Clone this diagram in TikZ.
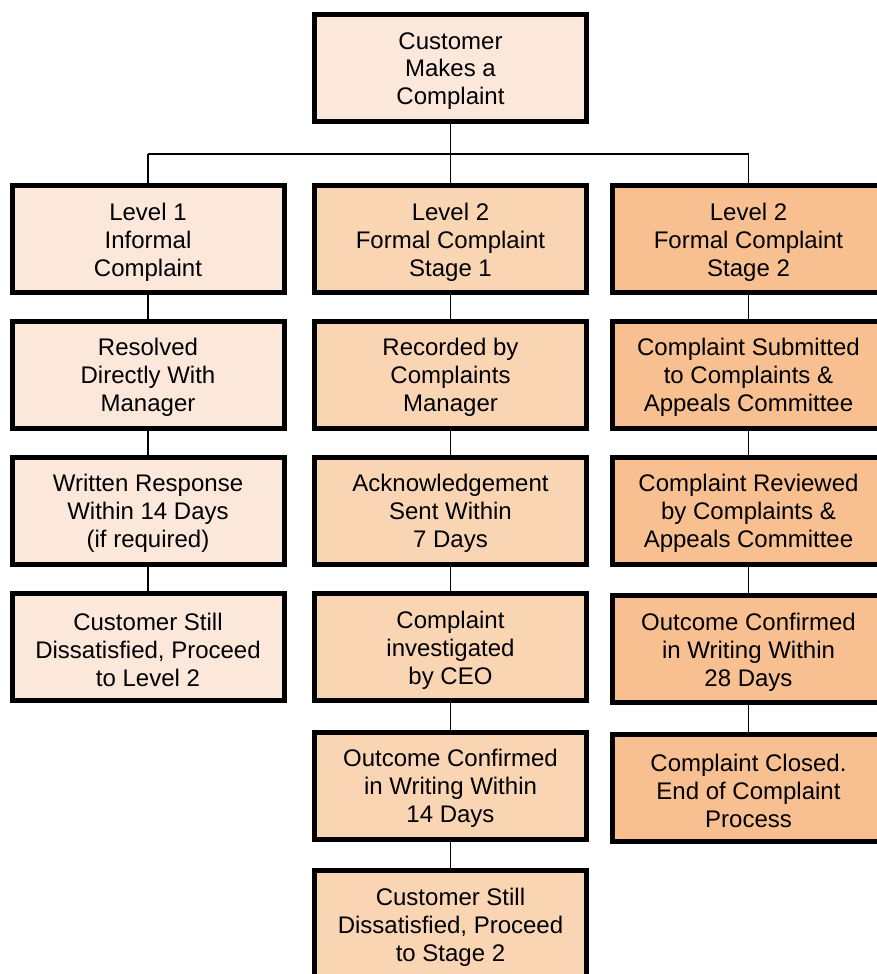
\documentclass[tikz,border=0pt]{standalone}
\usepackage{fontspec}
\setmainfont{Liberation Sans}
\definecolor{fillA}{HTML}{FCE8DA}
\definecolor{fillB}{HTML}{FAD5B4}
\definecolor{fillC}{HTML}{F8C091}
\begin{document}
\begin{tikzpicture}[x=1pt,y=-1pt,
  boxstyle/.style={draw=black, line width=5pt, rectangle, minimum width=272pt, minimum height=107pt,
    inner sep=0pt},
  txt/.style={align=center, inner sep=0pt, yshift=-3pt, font=\fontsize{24}{27.8}\selectfont},
  lineA/.style={boxstyle, fill=fillA},
  lineB/.style={boxstyle, fill=fillB},
  lineC/.style={boxstyle, fill=fillC},
  conn/.style={draw=black, line width=1.5pt}]
\useasboundingbox (0,0) rectangle (877,974);
\clip (0,0) rectangle (877,974);
\coordinate (hl) at (148,154);
\coordinate (hr) at (748.5,154);
% nodes
\node[lineA, label={[txt]center:{Customer\\Makes a\\Complaint}}] (top) at (450.5,68) {};
\node[lineA, label={[txt]center:{Level 1\\Informal\\Complaint}}] (a1) at (148,239) {};
\node[lineA, label={[txt]center:{Resolved\\Directly With\\Manager}}] (a2) at (148,374.5) {};
\node[lineA, label={[txt]center:{Written Response\\Within 14 Days\\(if required)}}] (a3) at (148,510.5) {};
\node[lineA, label={[txt]center:{Customer Still\\Dissatisfied, Proceed\\to Level 2}}] (a4) at (148,647) {};
\node[lineB, label={[txt]center:{Level 2\\Formal Complaint\\Stage 1}}] (b1) at (450.5,239) {};
\node[lineB, label={[txt]center:{Recorded by\\Complaints\\Manager}}] (b2) at (450.5,374.5) {};
\node[lineB, label={[txt]center:{Acknowledgement\\Sent Within\\7 Days}}] (b3) at (450.5,510.5) {};
\node[lineB, label={[txt]center:{Complaint\\investigated\\by CEO}}] (b4) at (450.5,647) {};
\node[lineB, label={[txt]center:{Outcome Confirmed\\in Writing Within\\14 Days}}] (b5) at (450.5,785.5) {};
\node[lineB, label={[txt]center:{Customer Still\\Dissatisfied, Proceed\\to Stage 2}}] (b6) at (450.5,924) {};
\node[lineC, label={[txt]center:{Level 2\\Formal Complaint\\Stage 2}}] (c1) at (748.5,239) {};
\node[lineC, label={[txt]center:{Complaint Submitted\\to Complaints \&\\Appeals Committee}}] (c2) at (748.5,374.5) {};
\node[lineC, label={[txt]center:{Complaint Reviewed\\by Complaints \&\\Appeals Committee}}] (c3) at (748.5,510.5) {};
\node[lineC, label={[txt]center:{Outcome Confirmed\\in Writing Within\\28 Days}}] (c4) at (748.5,649) {};
\node[lineC, label={[txt]center:{Complaint Closed.\\End of Complaint\\Process}}] (c5) at (748.5,788) {};
% connectors
\draw[conn] (top.south) -- (b1.north);
\draw[conn] (hl) -- (hr);
\draw[conn] (hl) -- (a1.north);
\draw[conn] (hr) -- (c1.north);
\draw[conn] (a1) -- (a2);
\draw[conn] (a2) -- (a3);
\draw[conn] (a3) -- (a4);
\draw[conn] (b1) -- (b2);
\draw[conn] (b2) -- (b3);
\draw[conn] (b3) -- (b4);
\draw[conn] (b4) -- (b5);
\draw[conn] (b5) -- (b6);
\draw[conn] (c1) -- (c2);
\draw[conn] (c2) -- (c3);
\draw[conn] (c3) -- (c4);
\draw[conn] (c4) -- (c5);
\end{tikzpicture}
\end{document}
